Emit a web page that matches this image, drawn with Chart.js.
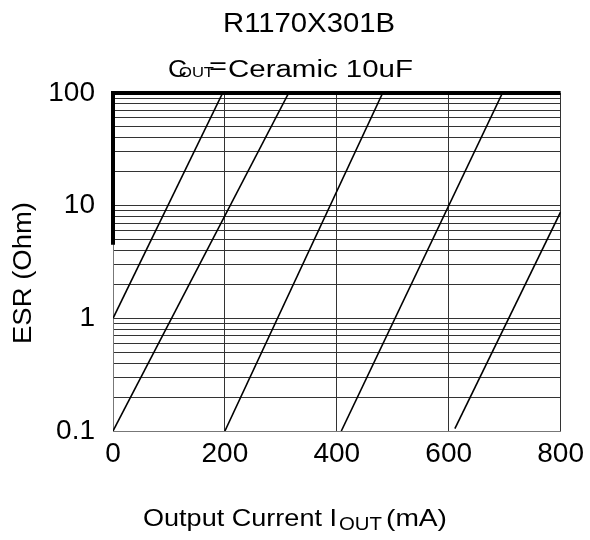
<!DOCTYPE html>
<html lang="en">
<head>
    <meta charset="UTF-8">
    <title>R1170X301B ESR</title>
    <script src="https://cdn.jsdelivr.net/npm/chart.js"></script>
    <style>
        html, body { margin: 0; padding: 0; background: #fff; }
        #wrap { width: 590px; height: 540px; }
    </style>
</head>
<body>
    <div id="wrap"><canvas id="esrChart" width="590" height="540"></canvas></div>

    <script>
        // values
        const xTicks = [0, 200, 400, 600, 800];
        const yMajor = [0.1, 1, 10, 100];
        // hatching lines (stable region), start/end points
        const hatchX = [[0, 314], [0, 196], [200, 482], [408, 696], [611, 800]];
        const hatchY = [[0.1, 100], [1, 100], [0.1, 100], [0.1, 100], [0.105, 8.8]];
        // thick boundary line
        const boundX = [0, 0, 800];
        const boundY = [4.5, 100, 100];

        const FONT = "Arial, 'Liberation Sans', sans-serif";

        // every 1..9 step of each decade for grid lines
        const yGrid = [];
        for (let d = 0; d < yMajor.length - 1; d++) {
            for (let k = 1; k < 10; k++) yGrid.push(+(yMajor[d] * k).toPrecision(3));
        }
        yGrid.push(yMajor[yMajor.length - 1]);

        const datasets = hatchX.map((xs, i) => ({
            data: xs.map((x, j) => ({ x: x, y: hatchY[i][j] })),
            borderColor: '#000',
            borderWidth: 1.6,
            pointRadius: 0
        }));
        datasets.push({
            data: boundX.map((x, j) => ({ x: x, y: boundY[j] })),
            borderColor: '#000',
            borderWidth: 4,
            pointRadius: 0,
            clip: false
        });

        // draw text squeezed/stretched to a measured width
        function fitText(ctx, text, left, base, width, size) {
            ctx.save();
            ctx.font = size + 'px ' + FONT;
            const w = ctx.measureText(text).width;
            ctx.translate(left, base);
            ctx.scale(width / w, 1);
            ctx.textAlign = 'left';
            ctx.textBaseline = 'alphabetic';
            ctx.fillText(text, 0, 0);
            ctx.restore();
        }

        const labels = {
            id: 'labels',
            afterDraw(chart) {
                const ctx = chart.ctx;
                ctx.fillStyle = '#000';
                fitText(ctx, 'R1170X301B', 223, 32, 172, 28);

                fitText(ctx, 'C', 168, 77, 19, 23);
                fitText(ctx, 'OUT', 179, 77, 35, 14);
                fitText(ctx, '=', 209, 74, 18, 23);
                fitText(ctx, 'Ceramic 10uF', 228, 77, 185, 23);

                fitText(ctx, 'Output Current I', 143, 526, 194, 24);
                fitText(ctx, 'OUT', 339, 530, 43, 18);
                fitText(ctx, '(mA)', 386, 526, 61, 24);

                ctx.save();
                ctx.translate(31, 344);
                ctx.rotate(-Math.PI / 2);
                fitText(ctx, 'ESR (Ohm)', 0, 0, 142, 26);
                ctx.restore();
            }
        };

        new Chart(document.getElementById('esrChart').getContext('2d'), {
            type: 'line',
            data: { datasets: datasets },
            options: {
                responsive: false,
                animation: false,
                layout: { padding: { top: 93, right: 29, bottom: 0, left: 0 } },
                plugins: {
                    legend: { display: false },
                    title: { display: false },
                    tooltip: { enabled: false }
                },
                scales: {
                    x: {
                        type: 'linear',
                        min: 0,
                        max: 800,
                        afterBuildTicks: (scale) => { scale.ticks = xTicks.map(v => ({ value: v })); },
                        afterFit: (scale) => { scale.height = 109; },
                        ticks: {
                            color: '#000',
                            font: { family: FONT, size: 28 },
                            padding: 6,
                            maxRotation: 0,
                            autoSkip: false
                        },
                        grid: { color: '#333', lineWidth: 1, drawTicks: false },
                        border: { display: true, color: '#777', width: 1 }
                    },
                    y: {
                        type: 'logarithmic',
                        min: 0.1,
                        max: 100,
                        afterBuildTicks: (scale) => { scale.ticks = yGrid.map(v => ({ value: v })); },
                        afterFit: (scale) => { scale.width = 113; },
                        ticks: {
                            color: '#000',
                            font: { family: FONT, size: 28 },
                            padding: 18,
                            autoSkip: false,
                            callback: (v) => yMajor.includes(v) ? String(v) : ''
                        },
                        grid: { color: '#333', lineWidth: 1, drawTicks: false },
                        border: { display: true, color: '#777', width: 1 }
                    }
                }
            },
            plugins: [labels]
        });
    </script>
</body>
</html>
